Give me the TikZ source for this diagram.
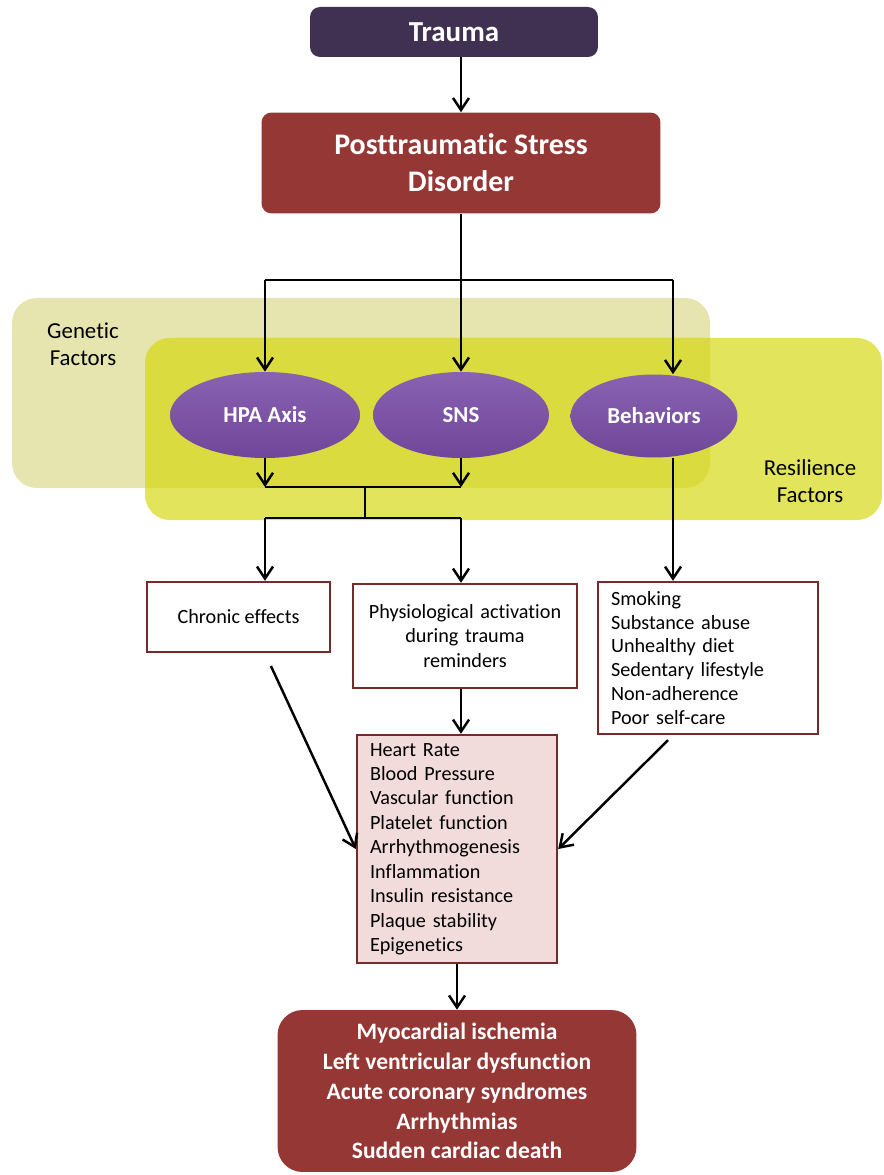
\documentclass[tikz,border=0pt]{standalone}
\usepackage{fontspec}
\setmainfont{Carlito}[Ligatures=NoCommon]
\usetikzlibrary{shapes.geometric,arrows.meta}

\definecolor{traumapurple}{HTML}{403152}
\definecolor{ptsdred}{HTML}{953735}
\definecolor{ovaltop}{HTML}{8A62B2}
\definecolor{ovalbottom}{HTML}{6F4699}
\definecolor{boxborder}{HTML}{772A2A}
\definecolor{heartpink}{HTML}{F2DCDB}
\definecolor{genfill}{HTML}{E6E5B0}
\definecolor{resfill}{HTML}{E2E45C}
\definecolor{overlapfill}{HTML}{D9DB3E}

\begin{document}
\begin{tikzpicture}[x=0.02cm,y=-0.02cm,
  arr/.style={line width=1.4pt,-{Straight Barb[length=2.4mm,width=3.2mm]}},
  link/.style={line width=1.4pt},
  headbox/.style={rounded corners=0.2cm,text=white,align=center,inner sep=0pt},
  oval/.style={ellipse,top color=ovaltop,bottom color=ovalbottom,text=white,font=\fontsize{13}{15}\selectfont\bfseries,inner sep=0pt},
  listbox/.style={draw=boxborder,line width=1.4pt,fill=white,font=\fontsize{11.5}{13.9}\selectfont,inner sep=0pt},
  factor/.style={font=\fontsize{13}{15.5}\selectfont,align=center}]

\useasboundingbox ( 0, 0 ) rectangle ( 884, 1175 );

% Factor areas
\fill [genfill, rounded corners=0.5cm] ( 12, 298 ) rectangle ( 710, 488 );
\fill [resfill, rounded corners=0.5cm] ( 145, 338 ) rectangle ( 882, 520 );
\begin{scope}
\clip [rounded corners=0.5cm] ( 12, 298 ) rectangle ( 710, 488 );
\fill [overlapfill, rounded corners=0.5cm] ( 145, 338 ) rectangle ( 882, 520 );
\end{scope}

\node (genetic) at ( 83, 344 ) [factor] {Genetic\\Factors};
\node (resilience) at ( 810, 481 ) [factor] {Resilience\\Factors};

% Top boxes
\node (trauma) at ( 454, 32 ) [headbox, fill=traumapurple, minimum width=5.76cm, minimum height=1.0cm,
  font=\fontsize{16.5}{20}\selectfont\bfseries] {Trauma};
\node (ptsd) at ( 461, 163 ) [headbox, fill=ptsdred, minimum width=7.98cm, minimum height=2.02cm,
  font=\fontsize{17}{21}\selectfont\bfseries] {Posttraumatic Stress\\Disorder};

% Pathways
\node (hpa) at ( 265, 415 ) [oval, minimum width=3.8cm, minimum height=1.72cm] {HPA Axis};
\node (sns) at ( 461, 415 ) [oval, minimum width=3.52cm, minimum height=1.72cm] {SNS};
\node (beh) at ( 654, 416 ) [oval, minimum width=3.34cm, minimum height=1.66cm] {Behaviors};

% Middle boxes
\node (chronic) at ( 238.5, 617 ) [listbox, minimum width=3.66cm, minimum height=1.4cm] {Chronic effects};
\node (physio) at ( 465, 636 ) [listbox, minimum width=4.48cm, minimum height=2.08cm,
  text width=4.2cm, align=center] {Physiological activation\\during trauma\\reminders};
\node (habits) at ( 708, 658 ) [listbox, minimum width=4.4cm, minimum height=3.04cm,
  text width=3.88cm, align=left, font=\fontsize{11.5}{13.6}\selectfont]
  {Smoking\\Substance abuse\\Unhealthy diet\\Sedentary lifestyle\\Non-adherence\\Poor self-care};
\node (heart) at ( 457, 849 ) [listbox, fill=heartpink, minimum width=4.0cm, minimum height=4.56cm,
  text width=3.48cm, align=left]
  {Heart Rate\\Blood Pressure\\Vascular function\\Platelet function\\Arrhythmogenesis\\Inflammation\\Insulin resistance\\Plaque stability\\Epigenetics};

% Outcome
\node (outcome) at ( 457, 1091 ) [headbox, rounded corners=0.5cm, fill=ptsdred, minimum width=7.18cm, minimum height=3.24cm,
  font=\fontsize{13.4}{17}\selectfont\bfseries]
  {Myocardial ischemia\\Left ventricular dysfunction\\Acute coronary syndromes\\Arrhythmias\\Sudden cardiac death};

% Connectors
\coordinate (split) at ( 461, 280 );
\coordinate (fr) at ( 673, 280 );
\coordinate (join) at ( 365, 487 );
\coordinate (fork) at ( 365, 518 );

\draw [arr] (trauma.south -| split) -- (ptsd.north -| split);
\draw [arr] (ptsd) -- (sns);
\draw [link] (split -| hpa) -- (fr);
\draw [arr] (split -| hpa) -- (hpa);
\draw [arr] (fr) -- (beh.north -| fr);

\draw [arr] (hpa) -- (hpa |- join);
\draw [arr] (sns) -- (sns |- join);
\draw [link] (hpa |- join) -- (sns |- join);
\draw [link] (join) -- (fork);
\draw [link] (fork -| hpa) -- (fork -| sns);
\draw [arr] (fork -| hpa) -- (chronic.north -| hpa);
\draw [arr] (fork -| sns) -- (physio.north -| sns);
\draw [arr] (beh.south -| fr) -- (habits.north -| fr);

\draw [arr, shorten <=8pt] (chronic.south -| hpa) -- (heart.west);
\draw [arr] (physio.south -| sns) -- (heart.north -| sns);
\draw [arr, shorten <=4pt] (habits.south -| fr) -- (heart.east);
\draw [arr] (heart) -- (outcome);

\end{tikzpicture}
\end{document}
